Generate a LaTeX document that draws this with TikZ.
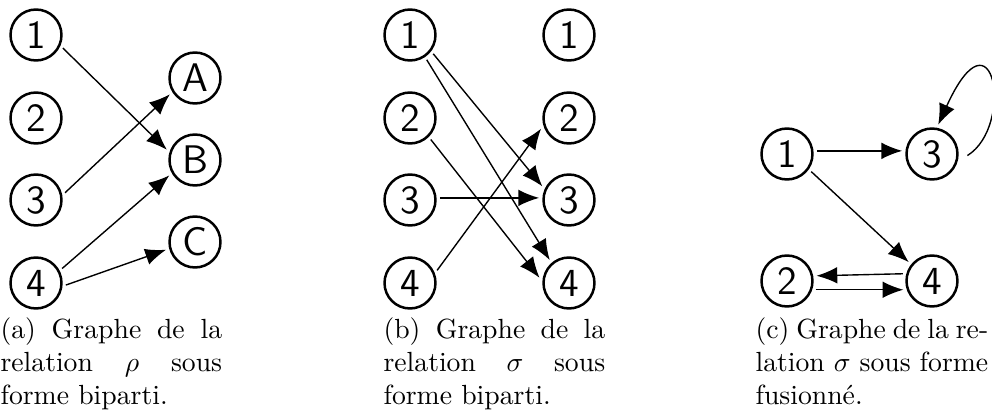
\documentclass[tikz,border=0pt]{standalone}
\usepackage{fontspec}
\usetikzlibrary{arrows.meta}
\setlength{\parindent}{0pt}
\tolerance=10000
\begin{document}
\begin{tikzpicture}[x=0.361pt,y=-0.361pt,
  vtx/.style={circle,draw,line width=0.9pt,minimum size=18.4pt,inner sep=0pt,outer sep=1.6pt,font=\sffamily\Large},
  arr/.style={-{Latex[length=7.5pt,width=6pt]},line width=0.5pt},
  captxt/.style={inner sep=0pt,anchor=north west,align=justify,font=\normalsize}]
\useasboundingbox (0,0) rectangle (992,413);
% (a)
\node[vtx] (a1) at (36,35) {1};
\node[vtx] (a2) at (36,118) {2};
\node[vtx] (a3) at (36,200) {3};
\node[vtx] (a4) at (36,283) {4};
\node[vtx] (aA) at (195,78) {A};
\node[vtx] (aB) at (195,160) {B};
\node[vtx] (aC) at (195,242) {C};
\draw[arr] (a1.-26) -- (aB.160);
\draw[arr] (a3.14) -- (aA.213);
\draw[arr] (a4.29) -- (aB.211);
\draw[arr] (a4.-4) -- (aC.195);
% (b)
\node[vtx] (bl1) at (410,35) {1};
\node[vtx] (bl2) at (410,118) {2};
\node[vtx] (bl3) at (410,200) {3};
\node[vtx] (bl4) at (410,283) {4};
\node[vtx] (br1) at (569,35) {1};
\node[vtx] (br2) at (569,118) {2};
\node[vtx] (br3) at (569,200) {3};
\node[vtx] (br4) at (569,283) {4};
\draw[arr] (bl1.-39) -- (br3.153);
\draw[arr] (bl1.-56) -- (br4.130);
\draw[arr] (bl2.-46) -- (br4.170);
\draw[arr] (bl3.4) -- (br3.176);
\draw[arr] (bl4.25) -- (br2.201);
% (c)
\node[vtx] (c1) at (787,154) {1};
\node[vtx] (c3) at (932,154) {3};
\node[vtx] (c2) at (787,281) {2};
\node[vtx] (c4) at (932,281) {4};
\draw[arr] (c1.6) -- (c3.174);
\draw[arr] (c1.-36) -- (c4.141);
\draw[arr] (c4.166) -- (c2.10);
\draw[arr] (c2.-17) -- (c4.197);
\draw[arr] ([xshift=2pt]c3.-3) .. controls (1015,126) and (994,2) .. (c3.78);
% captions
\node[captxt,text width=80pt] (capa) at (0,317) {(a) Graphe de la\linebreak relation $\rho$ sous\linebreak forme biparti.};
\node[captxt,text width=80pt] (capb) at (383,317) {(b) Graphe de la\linebreak relation $\sigma$ sous\linebreak forme biparti.};
\node[captxt,text width=84pt] (capc) at (755,317) {(c) Graphe de la re-\linebreak lation $\sigma$ sous forme\linebreak fusionné.};
\end{tikzpicture}
\end{document}
